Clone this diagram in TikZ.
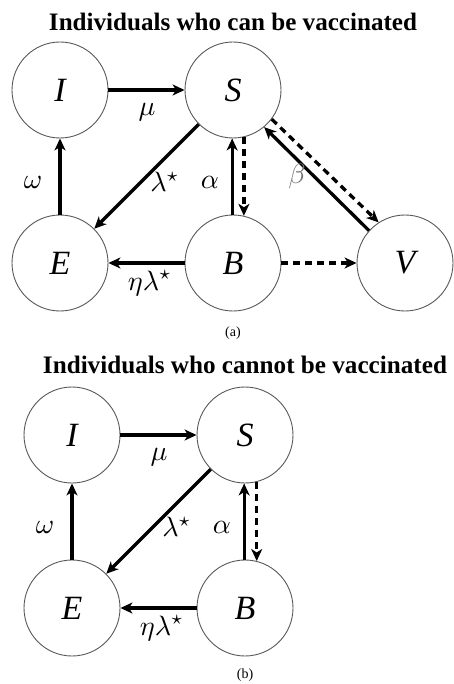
\documentclass[tikz,border=0pt]{standalone}
\usepackage{graphicx}
\usepackage{fontspec}
\setmainfont{Liberation Serif}
\usetikzlibrary{arrows.meta}
\newcommand{\mylab}[1]{\scalebox{2.8}{$#1$}}
\tikzset{
  comp/.style={circle, draw=black!65, line width=0.9pt, minimum size=96pt, inner sep=0pt,
    font=\fontsize{34}{34}\selectfont\itshape},
  arr/.style={line width=3.3pt, -{Stealth[length=12pt,width=11pt,inset=3.5pt]}},
  darr/.style={arr, dash pattern=on 7pt off 5pt},
  lab/.style={inner sep=0pt},
  ttl/.style={font=\fontsize{25}{25}\selectfont\bfseries, inner sep=0pt},
  subcap/.style={font=\fontsize{14}{14}\selectfont, inner sep=0pt}
}
\begin{document}
\begin{tikzpicture}[x=1pt,y=-1pt]
\useasboundingbox (0,0) rectangle (453,684);
% ---- (a) ----
\node[ttl] (ta) at (233,22) {\resizebox{368pt}{!}{Individuals who can be vaccinated}};
\node[comp] (I) at (60,90) {I};
\node[comp] (S) at (233,90) {S};
\node[comp] (E) at (60,263) {E};
\node[comp] (B) at (233,263) {B};
\node[comp] (V) at (405,263) {V};
\draw[arr] (I) -- (S);
\node[lab] (mu) at (147,112) {\mylab{\mu}};
\draw[arr] (E) -- (I);
\node[lab] (om) at (33,182) {\mylab{\omega}};
\draw[arr] (S) -- (E);
\node[lab] (la) at (165,182) {\mylab{\lambda^\star}};
\draw[arr] (B.91) -- (S.269);
\draw[darr] (S.-77) -- (B.77);
\node[lab] (al) at (210,182) {\mylab{\alpha}};
\draw[arr] (V.138) -- (S.-50);
\draw[darr] (S.-37) -- (V.123);
\node[lab, text=black!55] (be) at (297,177) {\mylab{\beta}};
\draw[arr] (B) -- (E);
\node[lab] (el) at (150,283) {\mylab{\eta\lambda^\star}};
\draw[darr] (B) -- (V);
\node[subcap] (ca) at (233,333) {(a)};
% ---- (b) ----
\node[ttl] (tb) at (245,365) {\resizebox{404pt}{!}{Individuals who cannot be vaccinated}};
\node[comp] (I2) at (72,435) {I};
\node[comp] (S2) at (245,435) {S};
\node[comp] (E2) at (72,608) {E};
\node[comp] (B2) at (245,608) {B};
\draw[arr] (I2) -- (S2);
\node[lab] (mu2) at (159,457) {\mylab{\mu}};
\draw[arr] (E2) -- (I2);
\node[lab] (om2) at (45,527) {\mylab{\omega}};
\draw[arr] (S2) -- (E2);
\node[lab] (la2) at (177,527) {\mylab{\lambda^\star}};
\draw[arr] (B2.91) -- (S2.269);
\draw[darr] (S2.-76) -- (B2.76);
\node[lab] (al2) at (222,527) {\mylab{\alpha}};
\draw[arr] (B2) -- (E2);
\node[lab] (el2) at (162,628) {\mylab{\eta\lambda^\star}};
\node[subcap] (cb) at (245,675) {(b)};
\end{tikzpicture}
\end{document}
